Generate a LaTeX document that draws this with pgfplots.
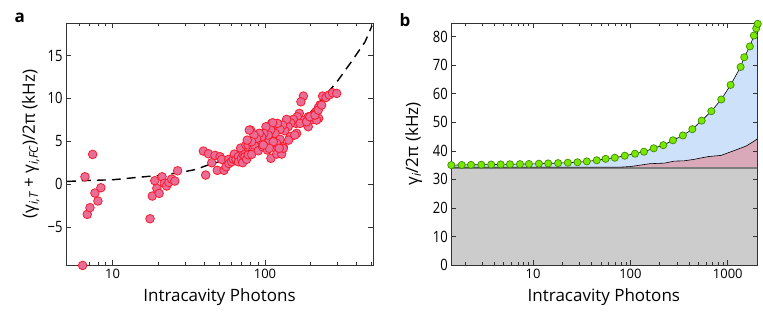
\documentclass[border=0pt]{standalone}
\usepackage{fontspec}
\setmainfont{Open Sans}
\usepackage{graphicx}
\usepackage{pgfplots}
\pgfplotsset{compat=1.18}
\definecolor{ptfill}{RGB}{230,110,152}
\definecolor{ptedge}{RGB}{255,25,40}
\definecolor{gfill}{RGB}{120,232,0}
\definecolor{gedge}{RGB}{60,140,0}
\definecolor{bluefill}{RGB}{205,225,250}
\definecolor{pinkfill}{RGB}{217,168,185}
\definecolor{grayfill}{RGB}{204,204,204}
\definecolor{grayline}{RGB}{125,125,125}
\newcommand{\yt}[1]{\scalebox{1}[1.2]{#1}}

\pgfplotstableread{
x y
6.35 -9.5
6.58 0.85
6.81 -3.54
7.10 -2.76
7.39 3.46
7.65 -1.05
8.0 -1.98
8.37 -0.43
17.6 -4.05
18.2 -1.40
18.9 0.39
19.5 -0.5
20.2 -1.09
21.1 0.85
21.8 0.08
22.6 -0.23
23.4 0.19
24.4 0.58
25.6 0.35
26.7 1.55
39.4 3.85
40.8 1.05
42.5 3.54
44.7 2.49
47.0 3.35
48.6 1.60
50.7 3.19
52.0 2.88
53.8 1.60
55.5 2.02
57.8 2.88
58 2.4
60.4 2.60
62 2.9
62.9 3.50
64.5 2.88
66.8 3.19
67 2.6
69.2 4.20
70 3.0
71.3 2.49
72 3.4
73.9 3.47
74 3.2
75 4.55
75.8 2.88
77.7 3.4
77.7 4.55
80.5 6.30
81.8 3.47
83.7 4.35
85.1 4.55
88.2 5.72
90.4 3.89
93.7 5.13
96.5 4.35
100 5.72
103.6 3.97
106.7 5.13
109.4 3.0
113.3 6.1
116.3 4.55
120.5 3.58
124.2 5.13
122.3 6.69
110.6 7.08
178.7 10.27
172.2 9.60
239 10.27
251.6 10.1
264 10.4
278 10.65
295.6 10.58
229.6 9.22
224 8.9
216 8.44
225 7.67
207.5 8.05
200.5 7.47
192.4 7.85
185 7.08
174 7.47
168 8.25
163 7.85
160 7.08
153.5 7.55
147.5 7.15
142 6.69
138.7 7.55
135 6.22
130.6 6.88
125.5 6.38
120.6 7.08
116.4 5.92
112.4 7.15
109 6.30
105 5.72
101.5 6.69
98.4 5.92
95 5.52
91.8 5.92
88.2 5.33
84.7 5.72
81.8 4.94
78.9 6.30
76.5 5.13
125.5 5.22
119.4 4.75
113.4 4.94
146 5.52
161.4 5.92
192.4 6.69
218 7.47
132 4.35
106.7 4.17
97.5 4.55
119.4 3.5
128.8 3.5
132 4.17
124 4.17
143 5.13
157 5.72
170 7.08
187.5 7.27
197 7.85
213 8.05
224 8.63
235.6 9.22
}\scatterdata

\pgfplotstableread{
x y
5 0.3
6.5 0.4
10 0.5
15 0.8
20 1.0
27 1.3
35 1.7
42 2.2
50 2.6
70 3.5
100 4.7
150 6.6
200 8.4
296 11.9
370 14.3
454 16.6
505 18.5
}\fitdata

\pgfplotstableread{
x y
1.445 35.0
1.849 35.05
2.301 35.1
2.938 35.15
3.715 35.2
4.645 35.25
5.781 35.3
7.328 35.35
9.057 35.4
11.48 35.5
14.29 35.6
18.07 35.7
22.75 35.85
28.58 36.0
35.65 36.3
45.08 36.7
55.59 37.2
69.02 37.6
87.50 38.3
111.4 39.0
137.7 39.7
173.4 40.9
217.8 42.0
273.5 43.7
345.9 45.4
432.5 47.6
539.5 50.6
677.5 53.9
857.0 58.0
1069 63.1
1355 69.4
1476 72.8
1687 76.6
1854 80.4
1959 82.9
2030 84.5
}\totaldata

\pgfplotstableread{
x y
1.445 34.3
79.4 34.3
100 34.5
125.9 35.0
158.5 35.5
223.9 35.7
281.8 36.4
354.8 36.5
446.7 37.0
631 38.0
851 38.4
1122 39.9
1549 41.7
1862 43.4
2030 44.3
}\pinkdata

\begin{document}
\begin{tikzpicture}
\path[use as bounding box] (0,0) rectangle (763pt,314pt);
\pgfplotsset{
  every axis/.append style={
    scale only axis,
    anchor=south west,
    xmode=log,
    axis line style={black!80, line width=0.8pt},
    tick style={black!80, line width=0.7pt},
    major tick length=5pt,
    minor tick length=3pt,
    tick align=inside,
    /pgf/number format/assume math mode=true,
    tick label style={font=\fontsize{13}{13}\selectfont},
    xticklabel style={yshift=-1pt},
    label style={font=\fontsize{17}{17}\selectfont},
    clip=false,
  }
}
% Panel a
\begin{axis}[
  at={(66pt,49pt)}, width=307pt, height=242pt,
  xmin=4.94, xmax=512, ymin=-9.45, ymax=18.8,
  xtick={10,100}, xticklabels={10,100},
  minor xtick={5,6,7,8,9,20,30,40,50,60,70,80,90,200,300,400,500},
  ytick={-5,0,5,10,15}, yticklabels={\yt{−5},\yt{0},\yt{5},\yt{10},\yt{15}},
  xlabel={Intracavity Photons},
  ylabel={(γ\textsubscript{\itshape i,T} + γ\textsubscript{\itshape i,FC})/2π (kHz)},
  xlabel style={at={(axis description cs:0.5,-0.132)}, anchor=center},
  ylabel style={at={(axis description cs:-0.115,0.5)}, anchor=center},
]
\addplot[black, line width=1.4pt, dash pattern=on 9pt off 6pt] table {\fitdata};
\addplot[only marks, mark=*, mark size=4.3pt, mark options={fill=ptfill, draw=ptedge, line width=0.8pt}] table {\scatterdata};
\end{axis}
\node[anchor=base west, font=\fontsize{17}{17}\selectfont\bfseries] at (11pt,291pt) {a};
% Panel b
\begin{axis}[
  at={(451.3pt,49pt)}, width=306.4pt, height=242pt,
  xmin=1.445, xmax=2030, ymin=0, ymax=84.8,
  xtick={10,100,1000}, xticklabels={10,100,1000},
  minor xtick={2,3,4,5,6,7,8,9,20,30,40,50,60,70,80,90,200,300,400,500,600,700,800,900,2000},
  ytick={0,10,20,30,40,50,60,70,80},
  yticklabels={\yt{0},\yt{10},\yt{20},\yt{30},\yt{40},\yt{50},\yt{60},\yt{70},\yt{80}},
  xlabel={Intracavity Photons},
  ylabel={γ\textsubscript{\itshape i}/2π (kHz)},
  xlabel style={at={(axis description cs:0.498,-0.132)}, anchor=center},
  ylabel style={at={(axis description cs:-0.123,0.5)}, anchor=center},
  axis on top,
]
\addplot[fill=bluefill, draw=none] table {\totaldata} \closedcycle;
\addplot[fill=pinkfill, draw=none] table {\pinkdata} \closedcycle;
\addplot[fill=grayfill, draw=none] coordinates {(1.445,34) (2030,34)} \closedcycle;
\addplot[grayline, line width=1.2pt] coordinates {(1.445,34) (2030,34)};
\addplot[black, line width=0.6pt] table {\pinkdata};
\addplot[black, line width=0.6pt, mark=*, mark size=3.6pt, mark options={fill=gfill, draw=gedge, line width=0.7pt}] table {\totaldata};
\end{axis}
\node[anchor=base west, font=\fontsize{17}{17}\selectfont\bfseries] at (396pt,287pt) {b};
\end{tikzpicture}
\end{document}
